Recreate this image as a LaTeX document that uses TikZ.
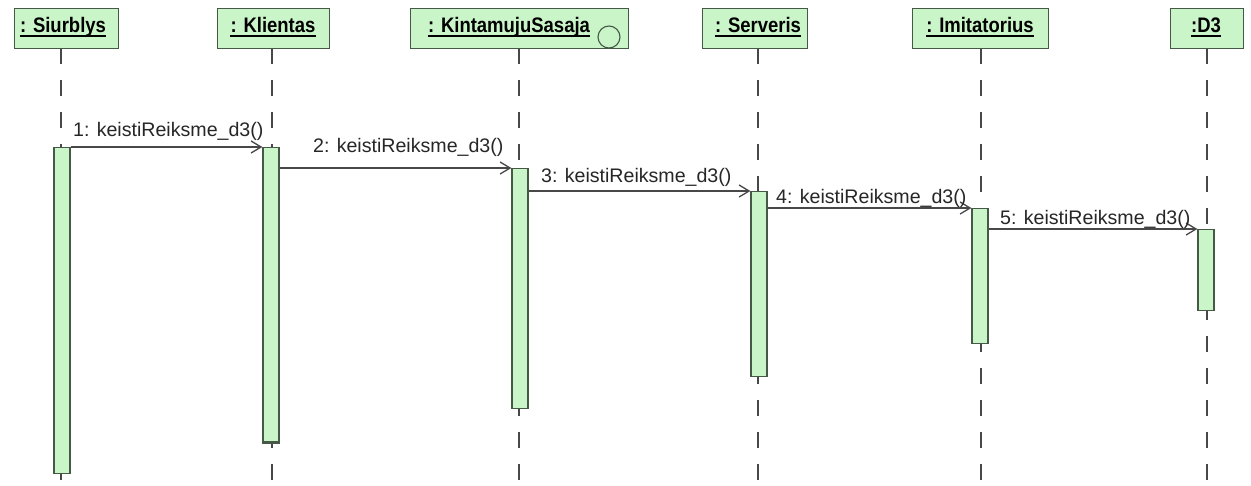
\documentclass[tikz,border=0pt]{standalone}
\usepackage{fontspec}
\setmainfont{Liberation Sans}
\usetikzlibrary{arrows.meta}
\definecolor{boxfill}{RGB}{202,245,200}
\definecolor{boxdraw}{RGB}{70,88,70}
\definecolor{linec}{RGB}{72,72,72}
\newcommand{\hdtxt}[1]{\scalebox{0.88}[1]{#1}}
\begin{document}
\begin{tikzpicture}[x=1pt,y=-1pt,
  head/.style={draw=boxdraw, fill=boxfill, line width=1.3pt, minimum height=40pt, inner sep=0pt, anchor=north west},
  headtxt/.style={font=\fontsize{21}{22}\selectfont\bfseries, inner sep=0pt, anchor=base},
  uline/.style={draw=black, line width=1.5pt},
  life/.style={draw=linec, line width=1.3pt, dash pattern=on 16pt off 16pt},
  bar/.style={draw=boxdraw, fill=boxfill, line width=1.3pt, minimum width=16pt, inner sep=0pt, anchor=north},
  msg/.style={draw=linec, line width=1.3pt, -{Straight Barb[length=10pt,width=12pt]}},
  lbl/.style={font=\fontsize{19.6}{22}\selectfont, inner sep=0pt, anchor=base west, text=black!85}]
\path[fill=white] (0,0) rectangle (1251,485);
\useasboundingbox (0,0) rectangle (1251,485);

% lifeline ends
\coordinate (s1) at (61,48);   \coordinate (e1) at (61,485);
\coordinate (s2) at (272,48);  \coordinate (e2) at (272,485);
\coordinate (s3) at (519,48);  \coordinate (e3) at (519,485);
\coordinate (s4) at (758,48);  \coordinate (e4) at (758,485);
\coordinate (s5) at (981,48);  \coordinate (e5) at (981,485);
\coordinate (s6) at (1207,48); \coordinate (e6) at (1207,485);
\foreach \i in {1,...,6} { \draw[life] (s\i) -- (e\i); }

% heads
\node[head, minimum width=104pt] (h1) at (14,8) {};
\node[head, minimum width=112pt] (h2) at (217,8) {};
\node[head, minimum width=218pt] (h3) at (410,8) {};
\node[head, minimum width=105pt] (h4) at (702,8) {};
\node[head, minimum width=136pt] (h5) at (912,8) {};
\node[head, minimum width=73pt]  (h6) at (1170,8) {};

\node[headtxt] (t1) at (63,32) {\hdtxt{: Siurblys}};
\node[headtxt] (t2) at (273,32) {\hdtxt{: Klientas}};
\node[headtxt] (t3) at (509,32) {\hdtxt{: KintamujuSasaja}};
\node[headtxt] (t4) at (758,32) {\hdtxt{: Serveris}};
\node[headtxt] (t5) at (980,32) {\hdtxt{: Imitatorius}};
\node[headtxt] (t6) at (1206,32) {\hdtxt{:D3}};
\foreach \i in {1,...,6} { \draw[uline] ([yshift=-4pt]t\i.base west) -- ([yshift=-4pt]t\i.base east); }
\node[draw=boxdraw, circle, minimum size=22pt, inner sep=0pt, line width=1.1pt] (c3) at (609,37) {};

% activation bars
\node[bar, minimum height=326pt] (b1) at (62,147) {};
\node[bar, minimum height=294pt] (b2) at (271,147) {};
\node[bar, minimum height=240pt] (b3) at (520,168) {};
\node[bar, minimum height=185pt] (b4) at (759,191) {};
\node[bar, minimum height=135pt] (b5) at (980,208) {};
\node[bar, minimum height=81pt]  (b6) at (1206,229) {};
\draw[draw=boxdraw, line width=2.6pt] (b2.south west) -- (b2.south east);

% messages
\draw[msg] (b1.east |- b2.north) -- (b2.north west);
\draw[msg] (b2.east |- b3.north) -- (b3.north west);
\draw[msg] (b3.east |- b4.north) -- (b4.north west);
\draw[msg] (b4.east |- b5.north) -- (b5.north west);
\draw[msg] (b5.east |- b6.north) -- (b6.north west);

\node[lbl] (m1) at (73,136) {1: keistiReiksme\_d3()};
\node[lbl] (m2) at (313,152) {2: keistiReiksme\_d3()};
\node[lbl] (m3) at (541,182) {3: keistiReiksme\_d3()};
\node[lbl] (m4) at (776,203) {4: keistiReiksme\_d3()};
\node[lbl] (m5) at (1000,224) {5: keistiReiksme\_d3()};
\end{tikzpicture}
\end{document}
